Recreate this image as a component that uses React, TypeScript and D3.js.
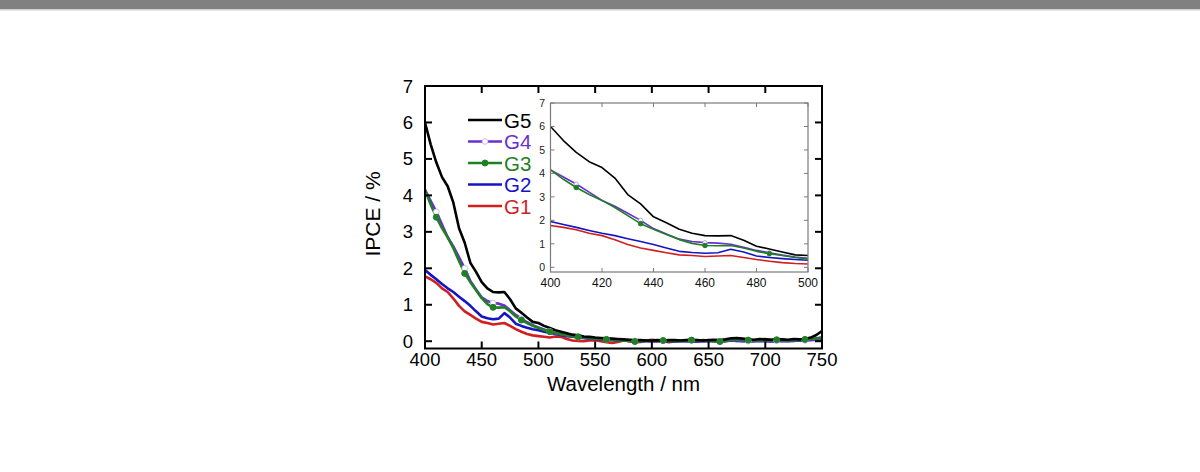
import React from "react";
import * as d3 from "d3";

const wavelengths: number[] = [
  400, 405, 410, 415, 420, 425, 430, 435, 440, 445, 450, 455, 460, 465, 470, 475, 480, 485, 490, 495,
  500, 505, 510, 515, 520, 525, 530, 535, 540, 545, 550, 555, 560, 565, 570, 575, 580, 585, 590, 595,
  600, 605, 610, 615, 620, 625, 630, 635, 640, 645, 650, 655, 660, 665, 670, 675, 680, 685, 690, 695,
  700, 705, 710, 715, 720, 725, 730, 735, 740, 745, 750,
];

const g5: number[] = [
  6.0, 5.4, 4.9, 4.5, 4.25, 3.8, 3.1, 2.7, 2.15, 1.9, 1.62, 1.45, 1.35, 1.34, 1.35, 1.15, 0.9, 0.78, 0.65, 0.53,
  0.5, 0.42, 0.36, 0.3, 0.26, 0.22, 0.18, 0.16, 0.13, 0.12, 0.1, 0.09, 0.08, 0.07, 0.06, 0.05, 0.04, 0.03, 0.03, 0.02,
  0.02, 0.03, 0.02, 0.03, 0.03, 0.02, 0.03, 0.04, 0.03, 0.02, 0.03, 0.04, 0.03, 0.05, 0.08, 0.09, 0.07, 0.05, 0.04, 0.06,
  0.05, 0.04, 0.06, 0.05, 0.04, 0.06, 0.05, 0.06, 0.1, 0.17, 0.28,
];

const g4: number[] = [
  4.15, 3.85, 3.55, 3.2, 2.85, 2.6, 2.3, 2.0, 1.65, 1.42, 1.2, 1.1, 1.05, 1.03, 0.98, 0.85, 0.72, 0.62, 0.52, 0.44,
  0.38, 0.32, 0.27, 0.22, 0.19, 0.16, 0.13, 0.11, 0.09, 0.08, 0.07, 0.06, 0.05, 0.04, 0.03, 0.03, 0.02, 0.01, 0.01, 0.02,
  0.01, 0.0, 0.01, 0.02, 0.01, 0.0, 0.01, 0.02, 0.01, 0.0, 0.01, 0.02, 0.0, 0.01, 0.03, 0.02, 0.01, 0.0, 0.01, 0.02,
  0.01, 0.0, 0.01, 0.02, 0.01, 0.02, 0.03, 0.02, 0.03, 0.04, 0.05,
];

const g3: number[] = [
  4.15, 3.75, 3.4, 3.1, 2.85, 2.55, 2.2, 1.86, 1.62, 1.4, 1.18, 1.02, 0.93, 0.92, 0.93, 0.82, 0.68, 0.58, 0.5, 0.42,
  0.36, 0.31, 0.26, 0.22, 0.19, 0.16, 0.14, 0.12, 0.1, 0.08, 0.07, 0.06, 0.05, 0.04, 0.03, 0.02, 0.01, -0.01, 0.0, 0.01,
  0.02, 0.01, 0.02, 0.01, 0.0, 0.01, 0.02, 0.03, 0.02, 0.01, 0.02, 0.01, -0.01, 0.01, 0.04, 0.05, 0.04, 0.03, 0.02, 0.03,
  0.02, 0.03, 0.04, 0.03, 0.02, 0.03, 0.04, 0.05, 0.06, 0.08, 0.1,
];

const g2: number[] = [
  1.95, 1.82, 1.7, 1.57, 1.45, 1.35, 1.22, 1.1, 0.97, 0.82, 0.68, 0.63, 0.6, 0.62, 0.77, 0.65, 0.48, 0.42, 0.37, 0.33,
  0.3, 0.26, 0.23, 0.2, 0.17, 0.14, 0.12, 0.1, 0.09, 0.07, 0.06, 0.05, 0.04, 0.03, 0.03, 0.02, 0.01, 0.0, 0.01, 0.0,
  -0.01, 0.0, 0.01, 0.0, -0.01, 0.0, 0.01, 0.0, -0.01, 0.0, 0.01, 0.0, -0.01, 0.0, 0.02, 0.01, 0.0, -0.01, 0.0, 0.01,
  0.0, -0.01, 0.0, 0.01, 0.0, 0.01, 0.02, 0.03, 0.04, 0.07, 0.1,
];

const g1: number[] = [
  1.78, 1.7, 1.6, 1.45, 1.35, 1.17, 0.97, 0.82, 0.72, 0.62, 0.53, 0.5, 0.46, 0.48, 0.5, 0.42, 0.33, 0.26, 0.2, 0.16,
  0.14, 0.12, 0.1, 0.13, 0.12, 0.06, 0.02, 0.01, 0.0, 0.02, 0.03, 0.0, -0.03, -0.05, -0.02, 0.02, 0.0, -0.03, -0.02, 0.02,
  0.04, 0.02, 0.0, -0.03, -0.01, 0.02, 0.01, -0.02, 0.0, 0.03, 0.02, 0.0, 0.02, 0.04, 0.03, 0.01, 0.05, 0.03, 0.01, 0.04,
  0.06, 0.03, 0.01, 0.04, 0.02, 0.05, 0.03, 0.04, 0.06, 0.04, 0.05,
];

const markerWavelengths: number[] = [410, 435, 460, 485, 510, 535, 560, 585, 610, 635, 660, 685, 710, 735];

const seriesNames: string[] = ["G5", "G4", "G3", "G2", "G1"];
const seriesColors: string[] = ["#000000", "#6a2fd0", "#1f7f24", "#1414c4", "#d11f1f"];
const seriesMarkers: string[] = ["none", "open", "filled", "none", "none"];
const seriesValues: number[][] = [g5, g4, g3, g2, g1];

// draw order: bottom to top
const drawOrder: number[] = [4, 3, 1, 2, 0];

const mainXTicks: number[] = [400, 450, 500, 550, 600, 650, 700, 750];
const mainYTicks: number[] = [0, 1, 2, 3, 4, 5, 6, 7];
const insetXTicks: number[] = [400, 420, 440, 460, 480, 500];
const insetYTicks: number[] = [0, 1, 2, 3, 4, 5, 6, 7];

const FONT = "'Liberation Sans', Arial, sans-serif";

export default function App() {
  // main plot
  const mx = d3.scaleLinear().domain([400, 750]).range([425, 822]);
  const my = d3.scaleLinear().domain([-0.2, 7]).range([348.5, 86]);
  // inset
  const ix = d3.scaleLinear().domain([400, 500]).range([550.5, 808]);
  const iy = d3.scaleLinear().domain([-0.2, 7]).range([272, 103]);

  const mainLine = (vals: number[]) =>
    d3
      .line<number>()
      .x((_, i) => mx(wavelengths[i]))
      .y((v) => my(v))(vals) || "";

  const insetIdx = wavelengths.map((w, i) => i).filter((i) => wavelengths[i] <= 500);
  const insetLine = (vals: number[]) =>
    d3
      .line<number>()
      .x((i) => ix(wavelengths[i]))
      .y((i) => iy(vals[i]))(insetIdx) || "";

  const valueAt = (vals: number[], w: number) => vals[wavelengths.indexOf(w)];

  const legendY = [120, 141.5, 163, 184.5, 206];

  return (
    <div style={{ position: "fixed", left: 0, top: 0, width: 1200, height: 472, background: "#fff" }}>
      <svg width={1200} height={472} style={{ display: "block" }}>
        <rect x={0} y={0} width={1200} height={9} fill="#808080" />
        <rect x={0} y={9} width={1200} height={1.5} fill="#cfcfcf" />

        <defs>
          <clipPath id="mainclip">
            <rect x={425} y={86} width={397} height={262.5} />
          </clipPath>
          <clipPath id="insetclip">
            <rect x={550.5} y={103} width={257.5} height={169} />
          </clipPath>
        </defs>

        {/* main series */}
        <g clipPath="url(#mainclip)">
          {drawOrder.map((si) => (
            <path
              key={"m" + si}
              d={mainLine(seriesValues[si])}
              fill="none"
              stroke={seriesColors[si]}
              strokeWidth={2.6}
              strokeLinejoin="round"
            />
          ))}
          {drawOrder.map((si) =>
            seriesMarkers[si] === "none"
              ? null
              : markerWavelengths.map((w) => (
                  <circle
                    key={"mk" + si + "-" + w}
                    cx={mx(w)}
                    cy={my(valueAt(seriesValues[si], w))}
                    r={seriesMarkers[si] === "open" ? 2.8 : 3}
                    fill={seriesMarkers[si] === "open" ? "#ffffff" : seriesColors[si]}
                    stroke={seriesMarkers[si] === "open" ? "#cdbcf2" : seriesColors[si]}
                    strokeWidth={1}
                  />
                ))
          )}
        </g>

        {/* main frame */}
        <rect x={425} y={86} width={397} height={262.5} fill="none" stroke="#000" strokeWidth={2} />
        {mainXTicks.map((t) => (
          <g key={"mxt" + t}>
            <line x1={mx(t)} x2={mx(t)} y1={348.5} y2={341.5} stroke="#000" strokeWidth={2} />
            <line x1={mx(t)} x2={mx(t)} y1={86} y2={93} stroke="#000" strokeWidth={2} />
            <text x={mx(t)} y={365.5} textAnchor="middle" fontFamily={FONT} fontSize={18.5} fill="#000">
              {t}
            </text>
          </g>
        ))}
        {mainYTicks.map((t) => (
          <g key={"myt" + t}>
            <line x1={425} x2={432} y1={my(t)} y2={my(t)} stroke="#000" strokeWidth={2} />
            <line x1={822} x2={815} y1={my(t)} y2={my(t)} stroke="#000" strokeWidth={2} />
            <text x={413} y={my(t) + 6.5} textAnchor="end" fontFamily={FONT} fontSize={18.5} fill="#000">
              {t}
            </text>
          </g>
        ))}
        <text x={623.5} y={390.5} textAnchor="middle" fontFamily={FONT} fontSize={20.5} fill="#000">
          Wavelength / nm
        </text>
        <text
          transform={`translate(380,214) rotate(-90)`}
          textAnchor="middle"
          fontFamily={FONT}
          fontSize={21}
          fill="#000"
        >
          IPCE / %
        </text>

        {/* legend */}
        {seriesNames.map((name, si) => (
          <g key={"lg" + si}>
            <line x1={468} x2={502} y1={legendY[si]} y2={legendY[si]} stroke={seriesColors[si]} strokeWidth={2.6} />
            {seriesMarkers[si] !== "none" && (
              <circle
                cx={485}
                cy={legendY[si]}
                r={seriesMarkers[si] === "open" ? 2.8 : 3}
                fill={seriesMarkers[si] === "open" ? "#ffffff" : seriesColors[si]}
                stroke={seriesMarkers[si] === "open" ? "#cdbcf2" : seriesColors[si]}
                strokeWidth={1}
              />
            )}
            <text x={504} y={legendY[si] + 7.5} fontFamily={FONT} fontSize={20.5} fill={seriesColors[si]}>
              {name}
            </text>
          </g>
        ))}

        {/* inset */}
        <rect x={550.5} y={103} width={257.5} height={169} fill="#fff" stroke="none" />
        <g clipPath="url(#insetclip)">
          {drawOrder.map((si) => (
            <path
              key={"i" + si}
              d={insetLine(seriesValues[si])}
              fill="none"
              stroke={seriesColors[si]}
              strokeWidth={1.6}
              strokeLinejoin="round"
            />
          ))}
          {drawOrder.map((si) =>
            seriesMarkers[si] === "none"
              ? null
              : markerWavelengths
                  .filter((w) => w <= 500)
                  .map((w) => (
                    <circle
                      key={"ik" + si + "-" + w}
                      cx={ix(w)}
                      cy={iy(valueAt(seriesValues[si], w))}
                      r={seriesMarkers[si] === "open" ? 2.1 : 2.3}
                      fill={seriesMarkers[si] === "open" ? "#ffffff" : seriesColors[si]}
                      stroke={seriesMarkers[si] === "open" ? "#b9a2ea" : seriesColors[si]}
                      strokeWidth={1}
                    />
                  ))
          )}
        </g>
        <rect x={550.5} y={103} width={257.5} height={169} fill="none" stroke="#7a7a7a" strokeWidth={1.2} />
        {insetXTicks.map((t) => (
          <g key={"ixt" + t}>
            <line x1={ix(t)} x2={ix(t)} y1={272} y2={268} stroke="#7a7a7a" strokeWidth={1} />
            <line x1={ix(t)} x2={ix(t)} y1={103} y2={107} stroke="#7a7a7a" strokeWidth={1} />
            <text x={ix(t)} y={287} textAnchor="middle" fontFamily={FONT} fontSize={12} fill="#111">
              {t}
            </text>
          </g>
        ))}
        {insetYTicks.map((t) => (
          <g key={"iyt" + t}>
            <line x1={550.5} x2={554.5} y1={iy(t)} y2={iy(t)} stroke="#7a7a7a" strokeWidth={1} />
            <line x1={808} x2={804} y1={iy(t)} y2={iy(t)} stroke="#7a7a7a" strokeWidth={1} />
            <text x={545} y={iy(t) + 3.8} textAnchor="end" fontFamily={FONT} fontSize={10.5} fill="#222">
              {t}
            </text>
          </g>
        ))}
      </svg>
    </div>
  );
}
